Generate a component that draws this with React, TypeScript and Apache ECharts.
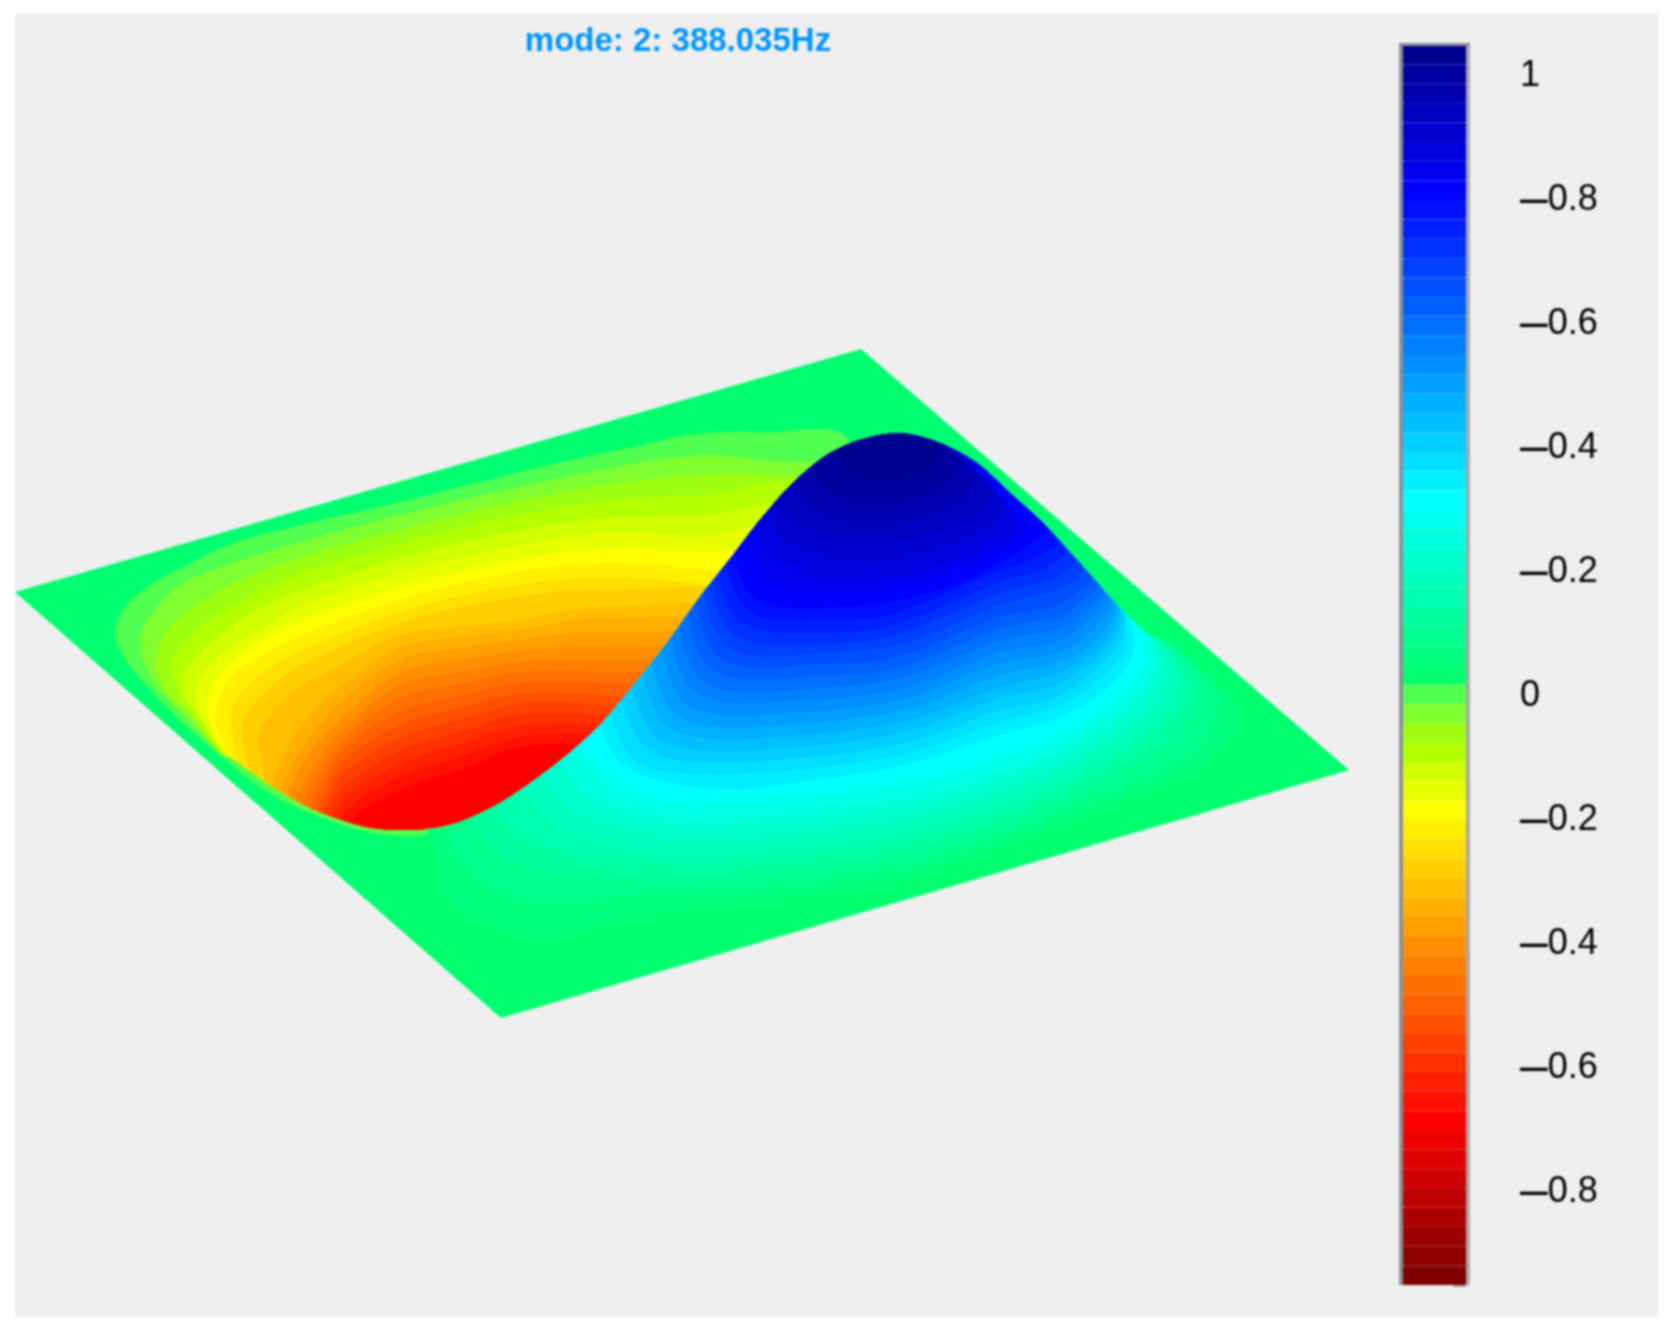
import * as echarts from 'echarts'
import { useEffect, useRef } from 'react'

type Pt = number[]
type Contour = [number, Pt[]] // [index into jet (1-based), outline]

const title = 'mode: 2: 388.035Hz'

// 64 step jet map of the colour bar, top to bottom
const jet = [
  '#00008f', '#00009f', '#0000af', '#0000bf', '#0000cf', '#0000df', '#0000ef', '#0000ff',
  '#0010ff', '#0020ff', '#0030ff', '#0040ff', '#0050ff', '#0060ff', '#0070ff', '#0080ff',
  '#008fff', '#009fff', '#00afff', '#00bfff', '#00cfff', '#00dfff', '#00efff', '#00ffff',
  '#00ffef', '#00ffdf', '#00ffcf', '#00ffbf', '#00ffaf', '#00ff9f', '#00ff8f', '#00ff7f',
  '#00ff6f', '#50ff50', '#80ff30', '#9fff10', '#b4ff00', '#cfff00', '#e8ff00', '#ffff00',
  '#ffef00', '#ffdf00', '#ffcf00', '#ffbf00', '#ffaf00', '#ff9f00', '#ff8f00', '#ff8000',
  '#ff7000', '#ff6000', '#ff5000', '#ff4000', '#ff3000', '#ff2000', '#ff1000', '#ff0000',
  '#ef0000', '#df0000', '#cf0000', '#bf0000', '#af0000', '#9f0000', '#8f0000', '#800000'
]
const barLevels = jet.map((_, i) => String(i + 1))

// plate outline
const plate: Pt[] = [[15, 592], [861, 349], [1349, 770], [501, 1018]]

// folded edge of the plate: the crest hides whatever lies behind it
const foldEdge: Pt[] = [
  [467, 819], [500, 803], [533, 781], [567, 755], [600, 725], [633, 686], [667, 643], [700, 597],
  [733, 555], [760, 520], [793, 483], [827, 455], [860, 440], [900, 433]
]
const crestEdge: Pt[] = [[940, 443], [977, 463], [1010, 493], [1043, 523], [1077, 560], [1110, 597], [1130, 618], [1150, 635]]
const troughEdge: Pt[] = [
  [100, 640], [133, 670], [157, 697], [183, 723], [217, 753], [230, 757], [267, 783], [300, 803],
  [333, 817], [367, 827], [400, 830], [433, 828]
]

const lipClip: Pt[] = [[0, 300], [900, 300], ...[...foldEdge].reverse(), [440, 900], [0, 900]]
const troughClip: Pt[] = [[100, 300], [900, 300], ...[...foldEdge].reverse(), ...[...troughEdge].reverse()]
const crestClip: Pt[] = [[300, 1100], [300, 832], [440, 828], ...foldEdge, ...crestEdge, [1175, 645], [1400, 800], [1400, 1100]]

// open side of each outline, hidden by the clip
const troughClosure: Pt[] = [[340, 880], [820, 880]]
const crestClosure: Pt[] = [[1000, 400], [800, 380], [600, 560]]

// negative lobe, outer outline first
const troughContours: Contour[] = [
  [34, [[850, 445], [760, 432], [690, 435], [633, 447], [557, 463], [480, 482], [400, 502], [300, 525], [233, 543], [183, 567], [143, 590], [123, 610], [115, 633], [120, 650], [133, 670], [157, 697], [183, 723], [217, 753], [250, 780], [287, 803], [333, 822], [367, 832], [417, 836], [467, 826]]],
  [35, [[850, 480], [760, 460], [700, 455], [600, 470], [500, 491], [400, 515], [300, 542], [233, 563], [183, 583], [157, 607], [142, 630], [140, 647], [147, 670], [163, 693], [182, 713], [212, 745]]],
  [36, [[850, 495], [760, 475], [700, 475], [600, 486], [500, 505], [400, 530], [300, 558], [233, 583], [193, 607], [167, 630], [157, 653], [158, 673], [170, 697], [187, 713], [215, 747]]],
  [37, [[800, 495], [700, 495], [600, 502], [500, 519], [400, 544], [300, 574], [250, 597], [210, 620], [183, 643], [173, 663], [175, 683], [183, 700], [192, 713], [218, 750]]],
  [38, [[800, 515], [700, 515], [600, 518], [500, 534], [400, 558], [300, 590], [250, 613], [217, 637], [193, 660], [183, 680], [185, 700], [197, 713], [221, 751]]],
  [39, [[800, 535], [700, 535], [600, 533], [500, 549], [400, 572], [300, 606], [260, 630], [227, 650], [203, 673], [195, 693], [198, 713], [224, 752]]],
  [40, [[800, 565], [700, 552], [600, 549], [500, 563], [400, 587], [333, 609], [283, 629], [250, 648], [223, 670], [210, 693], [207, 712], [218, 740], [227, 754]]],
  [41, [[800, 590], [700, 570], [600, 563], [500, 575], [400, 600], [300, 636], [260, 657], [233, 675], [220, 697], [215, 717], [223, 740], [232, 758]]],
  [42, [[800, 610], [700, 585], [600, 577], [500, 588], [400, 612], [300, 651], [270, 668], [247, 687], [233, 708], [232, 730], [243, 770]]],
  [43, [[760, 610], [600, 590], [500, 600], [400, 623], [300, 666], [275, 683], [255, 703], [243, 722], [243, 745], [257, 782]]],
  [44, [[760, 625], [600, 607], [520, 620], [400, 635], [340, 665], [300, 687], [280, 705], [265, 722], [258, 738], [262, 760], [270, 792]]],
  [45, [[760, 640], [600, 618], [520, 630], [460, 637], [400, 648], [340, 687], [310, 715], [293, 738], [282, 760], [272, 782], [270, 800]]],
  [46, [[760, 655], [600, 632], [520, 640], [460, 648], [400, 660], [340, 703], [310, 737], [294, 762], [282, 788], [278, 805]]],
  [47, [[760, 668], [600, 647], [520, 651], [460, 660], [400, 673], [340, 720], [310, 753], [298, 772], [288, 797], [284, 815]]],
  [48, [[760, 680], [600, 660], [520, 662], [460, 672], [400, 685], [340, 732], [318, 762], [304, 785], [296, 808]]],
  [49, [[760, 690], [600, 672], [520, 672], [460, 684], [400, 698], [340, 742], [320, 772], [306, 796], [300, 818]]],
  [50, [[760, 700], [600, 683], [520, 683], [460, 696], [400, 712], [340, 753], [325, 778], [312, 802], [305, 825]]],
  [51, [[760, 710], [600, 695], [520, 694], [460, 708], [400, 725], [340, 764], [328, 788], [316, 812], [310, 830]]],
  [52, [[760, 720], [600, 705], [520, 704], [460, 720], [400, 738], [340, 776], [331, 795], [320, 817], [315, 832]]],
  [53, [[760, 730], [600, 715], [520, 715], [460, 732], [400, 751], [345, 785], [333, 803], [324, 828]]],
  [54, [[760, 740], [600, 725], [520, 726], [460, 744], [400, 764], [350, 793], [337, 810], [328, 830]]],
  [55, [[760, 750], [600, 735], [520, 737], [460, 757], [400, 777], [355, 803], [342, 817], [336, 832]]],
  [56, [[760, 760], [600, 745], [520, 747], [467, 767], [417, 783], [367, 807], [350, 820], [345, 834]]]
]

// positive lobe, outer outline first
const crestContours: Contour[] = [
  [32, [[430, 820], [437, 858], [455, 904], [535, 937], [620, 920], [700, 907], [827, 893], [900, 880], [1040, 833], [1140, 793], [1207, 763], [1240, 720], [1233, 700], [1207, 670], [1167, 637], [1130, 600], [1100, 575]]],
  [31, [[450, 820], [470, 870], [530, 900], [650, 893], [700, 893], [900, 868], [1040, 821], [1190, 752], [1217, 700], [1190, 662], [1160, 632], [1100, 575]]],
  [30, [[470, 805], [490, 845], [540, 870], [650, 878], [700, 879], [900, 855], [1040, 810], [1172, 740], [1200, 692], [1178, 655], [1152, 628], [1100, 575]]],
  [29, [[495, 790], [510, 825], [555, 850], [650, 862], [700, 866], [900, 842], [1040, 798], [1160, 730], [1188, 686], [1168, 648], [1146, 624], [1100, 575]]],
  [28, [[515, 775], [530, 800], [570, 832], [650, 848], [700, 852], [900, 829], [1040, 786], [1150, 722], [1175, 680], [1160, 642], [1142, 620], [1100, 575]]],
  [27, [[530, 760], [550, 785], [580, 815], [650, 832], [700, 838], [900, 816], [1040, 774], [1142, 714], [1165, 674], [1152, 636], [1138, 618], [1100, 575]]],
  [26, [[548, 745], [565, 770], [590, 797], [650, 818], [700, 824], [900, 803], [1040, 763], [1134, 706], [1158, 668], [1146, 630], [1134, 615], [1100, 575]]],
  [25, [[560, 735], [585, 760], [605, 785], [650, 805], [700, 811], [900, 791], [1040, 751], [1127, 698], [1150, 660], [1142, 626], [1130, 612], [1100, 575]]],
  [24, [[575, 735], [600, 758], [622, 778], [660, 795], [700, 797], [900, 778], [1040, 739], [1120, 690], [1143, 652], [1136, 622], [1126, 609], [1100, 575]]],
  [23, [[595, 700], [608, 745], [627, 767], [667, 782], [737, 790], [793, 783], [900, 766], [1000, 735], [1060, 717], [1113, 683], [1133, 653], [1133, 630], [1123, 606], [1100, 575]]],
  [22, [[605, 685], [618, 735], [635, 760], [668, 772], [760, 773], [900, 755], [1000, 722], [1060, 705], [1105, 675], [1127, 648], [1125, 625], [1122, 605], [1090, 570]]],
  [21, [[615, 672], [631, 723], [646, 748], [678, 760], [760, 761], [900, 744], [1000, 710], [1060, 695], [1120, 643], [1121, 604], [1085, 565]]],
  [20, [[625, 660], [641, 712], [656, 737], [688, 749], [760, 750], [900, 733], [1000, 698], [1060, 683], [1113, 640], [1119, 603], [1080, 560]]],
  [19, [[635, 648], [651, 700], [666, 725], [698, 737], [760, 738], [900, 722], [1000, 687], [1060, 672], [1108, 637], [1117, 602], [1075, 555]]],
  [18, [[644, 636], [660, 689], [675, 714], [707, 726], [760, 727], [900, 711], [1000, 675], [1060, 662], [1102, 633], [1115, 600], [1070, 550]]],
  [17, [[653, 624], [669, 677], [684, 702], [716, 714], [770, 714], [900, 700], [1000, 663], [1060, 652], [1095, 627], [1112, 597], [1065, 545]]],
  [16, [[662, 612], [678, 665], [693, 690], [725, 702], [780, 702], [900, 689], [1000, 652], [1060, 640], [1088, 620], [1108, 593], [1060, 540]]],
  [15, [[670, 601], [686, 654], [701, 679], [733, 691], [790, 690], [900, 678], [1000, 640], [1060, 628], [1083, 613], [1103, 588], [1055, 535]]],
  [14, [[678, 590], [694, 642], [709, 667], [741, 679], [800, 677], [900, 667], [1000, 628], [1060, 617], [1077, 605], [1098, 583], [1050, 530]]],
  [13, [[686, 578], [702, 630], [717, 655], [749, 667], [810, 665], [900, 656], [1000, 617], [1060, 605], [1070, 597], [1092, 577], [1045, 525]]],
  [12, [[694, 567], [710, 619], [725, 644], [757, 656], [830, 652], [900, 645], [1000, 605], [1063, 587], [1083, 568], [1040, 515]]],
  [11, [[701, 558], [717, 607], [732, 632], [764, 644], [850, 642], [900, 634], [1000, 593], [1055, 577], [1075, 558], [1030, 505]]],
  [10, [[708, 550], [724, 595], [739, 620], [771, 632], [860, 631], [900, 623], [1000, 582], [1047, 567], [1065, 548], [1020, 495]]],
  [9, [[715, 542], [731, 583], [746, 608], [778, 620], [870, 618], [900, 612], [1000, 570], [1037, 557], [1057, 538], [1010, 485]]],
  [8, [[722, 533], [738, 571], [753, 596], [785, 608], [870, 605], [900, 600], [960, 583], [1005, 560], [1027, 547], [1047, 527], [1000, 475]]],
  [7, [[735, 520], [752, 558], [770, 578], [810, 590], [893, 587], [1000, 552], [1024, 530], [990, 480]]],
  [6, [[745, 505], [767, 553], [817, 577], [893, 577], [987, 547], [1017, 523], [975, 470]]],
  [5, [[760, 490], [777, 533], [823, 557], [893, 560], [977, 533], [1007, 507], [965, 460]]],
  [4, [[770, 480], [790, 517], [830, 537], [893, 540], [963, 520], [993, 490], [955, 450]]],
  [3, [[785, 470], [803, 497], [837, 518], [893, 520], [953, 503], [977, 477], [945, 440]]],
  [2, [[800, 455], [817, 480], [843, 498], [893, 500], [940, 487], [960, 463], [930, 430]]],
  [1, [[815, 445], [837, 460], [860, 475], [893, 479], [927, 470], [943, 453], [920, 425]]]
]

const contourSeries = (
  contours: Contour[],
  closureFor: (band: number) => Pt[],
  clipFor: (band: number) => Pt[] | null,
  smooth: number
) => ({
  type: 'custom',
  xAxisIndex: 0,
  yAxisIndex: 0,
  clip: false,
  silent: true,
  data: contours.map((_, i) => [i, 0]),
  renderItem: (params: any, api: any) => {
    const [band, outline] = contours[params.dataIndex]
    const clip = clipFor(band)
    return {
      type: 'polygon',
      shape: { points: outline.concat(closureFor(band)).map((p) => api.coord(p)), smooth },
      ...(clip ? { clipPath: { type: 'polygon', shape: { points: clip.map((p) => api.coord(p)), smooth: 0.3 } } } : {}),
      style: { fill: jet[band - 1] }
    }
  }
})

const barLabel = (v: number) => {
  if (v === 1) return '{n|1}'
  if (Math.abs(v) < 1e-6) return '{n|0}'
  if (v <= -0.99) return ''
  return `{d|\u2013}{n|${Math.abs(v).toFixed(1)}}`
}

export default function App() {
  const chartRef = useRef<HTMLDivElement>(null)

  useEffect(() => {
    if (!chartRef.current) return
    const chart = echarts.init(chartRef.current, null, { renderer: 'svg' })

    const labelFont = 'Liberation Sans, sans-serif'
    const option = {
      animation: false,
      backgroundColor: '#ffffff',
      title: {
        text: title,
        left: 673,
        top: 18,
        textAlign: 'center',
        textStyle: { color: '#0096ff', fontSize: 33, fontWeight: 'bold', fontFamily: labelFont }
      },
      grid: [
        { left: 15, top: 14, width: 1643, height: 1304, show: true, backgroundColor: '#efefef', borderWidth: 0 },
        { left: 1403, top: 45, width: 63, height: 1240 }
      ],
      xAxis: [
        { type: 'value', gridIndex: 0, min: 15, max: 1658, show: false },
        { type: 'value', gridIndex: 1, min: 0, max: 1, show: false }
      ],
      yAxis: [
        { type: 'value', gridIndex: 0, min: 14, max: 1318, inverse: true, show: false },
        { type: 'category', gridIndex: 1, inverse: true, data: barLevels, show: false },
        {
          type: 'value',
          gridIndex: 1,
          position: 'right',
          min: -1,
          max: 1,
          interval: 0.2,
          splitLine: { show: false },
          axisLine: { show: false },
          axisTick: { show: true, inside: true, length: 13, lineStyle: { color: 'rgba(0,0,40,0.3)', width: 3 } },
          axisLabel: {
            margin: 54,
            padding: [56, 0, 0, 0],
            formatter: barLabel,
            rich: {
              d: { fontSize: 50, color: '#000', fontFamily: labelFont },
              n: { fontSize: 36, color: '#000', fontFamily: labelFont }
            }
          }
        }
      ],
      series: [
        contourSeries([[33, plate]], () => [], () => null, 0),
        contourSeries(troughContours, (b) => (b === 34 ? [[820, 880]] : troughClosure), (b) => (b === 34 ? lipClip : troughClip), 0.35),
        contourSeries(crestContours, () => crestClosure, () => crestClip, 0.35),
        {
          type: 'bar',
          xAxisIndex: 1,
          yAxisIndex: 1,
          silent: true,
          barWidth: '100%',
          data: jet.map((c) => ({ value: 1, itemStyle: { color: c, borderColor: c, borderWidth: 1 } }))
        }
      ],
      graphic: [
        { type: 'rect', z: 10, shape: { x: 1399, y: 43, width: 4, height: 1242 }, style: { fill: '#8d9098' } },
        { type: 'rect', z: 10, shape: { x: 1466, y: 43, width: 4, height: 1242 }, style: { fill: '#a9a9a9' } },
        { type: 'rect', z: 10, shape: { x: 1399, y: 43, width: 71, height: 3 }, style: { fill: '#8c8ca0' } }
      ]
    }

    chart.setOption(option as any)
    return () => chart.dispose()
  }, [])

  return (
    <div
      ref={chartRef}
      style={{ position: 'absolute', left: 0, top: 0, width: 1678, height: 1337, filter: 'blur(0.9px)' }}
    />
  )
}
